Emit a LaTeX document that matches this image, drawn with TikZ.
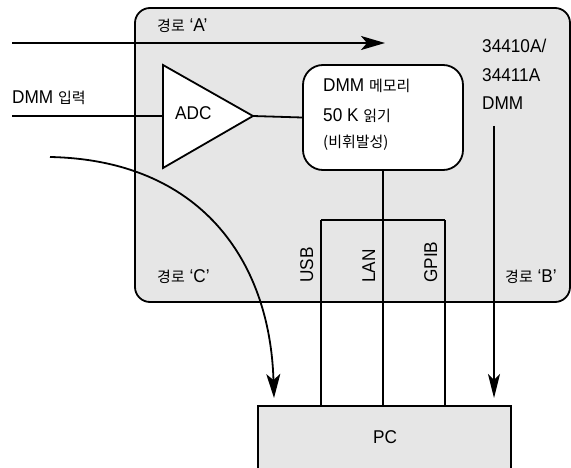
\documentclass[tikz,border=0pt]{standalone}
\usepackage{fontspec}
\setmainfont{Liberation Sans}[FakeStretch=0.93]
\newfontfamily\krfont{Noto Sans CJK KR}
\usetikzlibrary{arrows.meta}
\newcommand{\kor}[1]{{\krfont\fontsize{15}{18}\selectfont #1}}
\definecolor{panel}{HTML}{E6E6E6}
\tikzset{
  wire/.style={line width=1.8pt},
  thin wire/.style={line width=1.3pt},
  tip/.style={-{Stealth[length=24pt,width=14pt,inset=6pt]}},
  lbl/.style={inner sep=0pt, anchor=base west, font=\fontsize{18.5}{22}\selectfont},
  box/.style={draw, line width=1.8pt, inner sep=0pt}
}
\begin{document}
\begin{tikzpicture}[x=1pt,y=-1pt]
\useasboundingbox (0,0) rectangle (571,468);

% instrument housing
\node[box, fill=panel, rounded corners=15pt, minimum width=435pt, minimum height=294pt] (dmm) at (352.5,155) {};

% PC below
\node[box, fill=panel, minimum width=253pt, minimum height=70pt, anchor=north west] (pc) at (257,405) {};
\node[lbl] (pclabel) at (373,443) {PC};

% path A
\coordinate (ain) at (12,43);
\coordinate (aend) at (385,43);
\draw[wire, tip] (ain) -- (aend);
\node[lbl] (pathA) at (157,32) {\kor{경로} ‘A’};

% ADC stage
\coordinate (adcA) at (163,65);
\coordinate (adcB) at (163,168);
\coordinate (adcT) at (253,116);
\draw[wire, fill=white, line join=miter] (adcA) -- (adcT) -- (adcB) -- cycle;
\node[lbl] (adc) at (175,120) {ADC};
\coordinate (din) at (12,116);
\draw[wire] (din) -- (163,116);
\node[lbl] (dinlabel) at (12,104) {DMM \kor{입력}};

% reading memory
\node[box, fill=white, rounded corners=20pt, minimum width=160pt, minimum height=105pt] (mem) at (383,117.5) {};
\draw[wire] (adcT) -- (mem.west);
\node[lbl] (m1) at (323,92) {DMM \kor{메모리}};
\node[lbl] (m2) at (323,122) {50 K \kor{읽기}};
\node[lbl] (m3) at (323,148) {\kor{(비휘발성)}};

% model label
\node[lbl] (mod1) at (482,53) {34410A/};
\node[lbl] (mod2) at (482,82) {34411A};
\node[lbl] (mod3) at (482,110) {DMM};

% interfaces
\coordinate (j) at (383,220);
\coordinate (usbtop) at (321,220);
\coordinate (gpibtop) at (445,220);
\draw[wire] (mem.south) -- (pc.north -| mem.south);
\draw[wire] (usbtop) -- (gpibtop);
\draw[wire] (usbtop) -- (pc.north -| usbtop);
\draw[wire] (gpibtop) -- (pc.north -| gpibtop);
\node[lbl, rotate=90] (usb) at (313,283) {USB};
\node[lbl, rotate=90] (lan) at (375,283) {LAN};
\node[lbl, rotate=90] (gpib) at (437,283) {GPIB};

% path B
\coordinate (bstart) at (494,126);
\coordinate (bend) at (494,398);
\draw[thin wire, -{Stealth[length=24pt,width=12pt,inset=6pt]}] (bstart) -- (bend);
\node[lbl] (pathB) at (505,283) {\kor{경로} ‘B’};

% path C
\coordinate (cstart) at (50,157);
\coordinate (cend) at (274,398);
\draw[wire, tip] (cstart) .. controls (200,160) and (270,260) .. (cend);
\node[lbl] (pathC) at (157,283) {\kor{경로} ‘C’};
\end{tikzpicture}
\end{document}
